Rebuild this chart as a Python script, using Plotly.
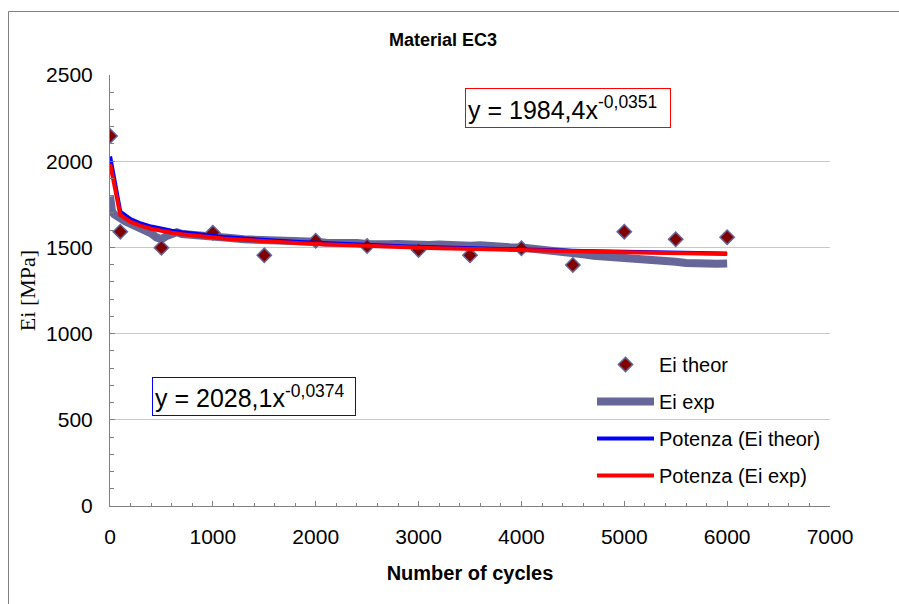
import plotly.graph_objects as go

# ---- data ----
theor_x = [1, 100, 500, 1000, 1500, 2000, 2500, 3000, 3500, 4000, 4500, 5000, 5500, 6000]
theor_y = [2146, 1591, 1498, 1585, 1454, 1539, 1508, 1485, 1454, 1495, 1398, 1591, 1547, 1559]

exp_x = [1, 3, 6, 10, 20, 40, 60, 80, 100, 150, 200, 250, 300, 350, 400, 450, 500, 550,
         600, 650, 700, 800, 900, 1000, 1100, 1200, 1300, 1400, 1500, 1600, 1700, 1800,
         1900, 2000, 2100, 2200, 2300, 2400, 2500, 2600, 2700, 2800, 2900, 3000, 3100,
         3200, 3300, 3400, 3500, 3600, 3700, 3800, 3900, 4000, 4100, 4200, 4300, 4400,
         4500, 4600, 4700, 4800, 4900, 5000, 5100, 5200, 5300, 5400, 5500, 5600, 5700,
         5800, 5900, 6000]
exp_y = [1795, 1770, 1745, 1725, 1708, 1692, 1682, 1673, 1666, 1650, 1637, 1625, 1614, 1603,
         1582, 1558, 1548, 1566, 1582, 1588, 1578, 1575, 1566, 1562, 1555, 1553, 1547, 1546,
         1541, 1542, 1536, 1535, 1532, 1533, 1527, 1530, 1524, 1525, 1520, 1524, 1518, 1520,
         1516, 1518, 1514, 1517, 1512, 1514, 1509, 1512, 1506, 1505, 1500, 1500, 1494, 1494,
         1486, 1480, 1468, 1460, 1452, 1449, 1442, 1441, 1435, 1434, 1427, 1425, 1417, 1410,
         1404, 1407, 1405, 1407]

# power trendline coefficients as printed on the chart
theor_A, theor_b = 2028.1, -0.0374
exp_A, exp_b = 1984.4, -0.0351
trend_x = [1] + list(range(100, 6001, 100))

x_ticks = [0, 1000, 2000, 3000, 4000, 5000, 6000, 7000]
y_ticks = [0, 500, 1000, 1500, 2000, 2500]

FONT = "Liberation Sans, Arial, sans-serif"
GREY = "#666699"

fig = go.Figure()
fig.add_trace(go.Scatter(x=exp_x, y=exp_y, mode="lines", name="Ei exp",
                         line=dict(color=GREY, width=8), legendrank=2, legendgroup="b"))
fig.add_trace(go.Scatter(x=theor_x, y=theor_y, mode="markers", name="Ei theor",
                         marker=dict(symbol="diamond", size=11, color="#800000",
                                     line=dict(color=GREY, width=1.5)),
                         legendrank=1, legendgroup="a"))
fig.add_trace(go.Scatter(x=trend_x, y=[theor_A * v ** theor_b for v in trend_x], mode="lines",
                         name="Potenza (Ei theor)", line=dict(color="#0000FF", width=4),
                         legendrank=3, legendgroup="c"))
fig.add_trace(go.Scatter(x=trend_x, y=[exp_A * v ** exp_b for v in trend_x], mode="lines",
                         name="Potenza (Ei exp)", line=dict(color="#FF0000", width=4),
                         legendrank=4, legendgroup="d"))

L, R, T, B = 110, 830, 75, 506
W, H = 899, 604

def px(x):
    return (x - L) / (R - L)

def py(y):
    return (B - y) / (B - T)

fig.update_layout(
    width=W, height=H,
    margin=dict(l=L, r=W - R, t=T, b=H - B),
    paper_bgcolor="white", plot_bgcolor="white",
    font=dict(family=FONT, color="black"),
    title=dict(text="<b>Material EC3</b>", font=dict(size=18, family=FONT),
               x=443 / W, xref="container", xanchor="center",
               y=1 - 40 / H, yref="container", yanchor="middle"),
    showlegend=True,
    legend=dict(x=px(592), y=py(345), xanchor="left", yanchor="top",
                font=dict(size=20, family=FONT), bgcolor="rgba(0,0,0,0)",
                traceorder="grouped", tracegroupgap=8, itemwidth=57),
    xaxis=dict(range=[0, 7000], tickvals=x_ticks, ticks="inside", ticklen=5,
               tickcolor="#808080", showline=True, linecolor="#808080", linewidth=1,
               showgrid=False, zeroline=False, tickfont=dict(size=21, family=FONT),
               ticklabelstandoff=12,
               minor=dict(dtick=200, ticks="inside", ticklen=3, tickcolor="#808080"),
               title=dict(text="<b>Number of cycles</b>", font=dict(size=20, family=FONT),
                          standoff=18)),
    yaxis=dict(range=[0, 2500], tickvals=y_ticks, ticks="inside", ticklen=5,
               tickcolor="#808080", showline=True, linecolor="#808080", linewidth=1,
               showgrid=True, gridcolor="#c8c8c8", gridwidth=1, zeroline=False,
               tickfont=dict(size=21, family=FONT), ticklabelstandoff=12,
               minor=dict(dtick=100, ticks="inside", ticklen=4, tickcolor="#808080"),
               title=dict(text="Ei [MPa]", font=dict(size=22, family="Liberation Serif, Times New Roman, serif"),
                          standoff=4)),
)

# outer chart frame
fig.add_shape(type="rect", xref="paper", yref="paper",
              x0=px(8.5), x1=px(930), y0=py(640), y1=py(11.5),
              line=dict(color="#808080", width=1), fillcolor="rgba(0,0,0,0)", layer="below")

# equation boxes
def eq_text(A, b):
    return f"y = {str(A).replace('.', ',')}x<sup>{str(b).replace('.', ',')}</sup>"

fig.add_annotation(xref="paper", yref="paper", x=px(465), y=py(88), xanchor="left", yanchor="top",
                   text=eq_text(exp_A, exp_b),
                   showarrow=False, align="left", font=dict(size=25, family=FONT),
                   bordercolor="#FF0000", borderwidth=1, borderpad=2, width=200, height=34,
                   bgcolor="white")
fig.add_annotation(xref="paper", yref="paper", x=px(152), y=py(377), xanchor="left", yanchor="top",
                   text=eq_text(theor_A, theor_b),
                   showarrow=False, align="left", font=dict(size=25, family=FONT),
                   bordercolor="#0000FF", borderwidth=1, borderpad=2, width=198, height=33,
                   bgcolor="white")

fig.write_html("out.html")
